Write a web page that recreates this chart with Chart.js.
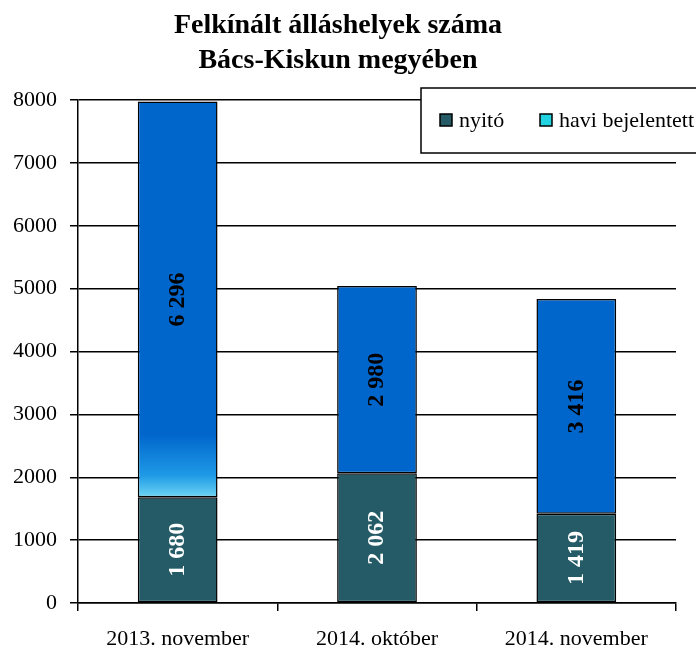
<!DOCTYPE html>
<html lang="hu">
<head>
    <meta charset="UTF-8">
    <title>Felkínált álláshelyek száma</title>
    <script src="https://cdn.jsdelivr.net/npm/chart.js"></script>
    <style>
        body { margin: 0; background: #ffffff; }
        .wrap { width: 696px; height: 651px; position: relative; }
    </style>
</head>
<body>
    <div class="wrap"><canvas id="chart"></canvas></div>
    <script>
        // data
        var categories = ['2013. november', '2014. október', '2014. november'];
        var nyito = [1680, 2062, 1419];
        var haviBejelentett = [6296, 2980, 3416];
        var yTicks = [0, 1000, 2000, 3000, 4000, 5000, 6000, 7000, 8000];

        var serif = '"Liberation Serif", "Times New Roman", serif';

        function fmt(v) {
            return String(v).replace(/\B(?=(\d{3})+(?!\d))/g, ' ');
        }

        // blue fill, first bar fades to light cyan at the bottom
        function haviFill(ctx) {
            var chart = ctx.chart;
            var y = chart.scales.y;
            if (ctx.dataIndex !== 0 || !chart.chartArea || !y) return '#0066cc';
            var base = y.getPixelForValue(nyito[0]);
            var top = y.getPixelForValue(nyito[0] + 1000);
            var g = chart.ctx.createLinearGradient(0, base, 0, top);
            g.addColorStop(0, '#6fd6f4');
            g.addColorStop(0.35, '#1f9ae6');
            g.addColorStop(1, '#0066cc');
            return g;
        }

        // value labels rotated inside the bars
        var barLabels = {
            id: 'barLabels',
            afterDatasetsDraw: function (chart) {
                var c = chart.ctx;
                chart.data.datasets.forEach(function (ds, i) {
                    var meta = chart.getDatasetMeta(i);
                    meta.data.forEach(function (bar, j) {
                        var mid = (bar.y + bar.base) / 2;
                        c.save();
                        c.translate(bar.x, mid);
                        c.rotate(-Math.PI / 2);
                        c.font = 'bold 24px ' + serif;
                        c.fillStyle = ds.labelColor;
                        c.textAlign = 'center';
                        c.textBaseline = 'middle';
                        c.fillText(fmt(ds.data[j]), 0, 0);
                        c.restore();
                    });
                });
            }
        };

        // boxed legend in the top right corner
        var boxLegend = {
            id: 'boxLegend',
            afterDraw: function (chart) {
                var c = chart.ctx;
                c.save();
                c.fillStyle = '#ffffff';
                c.fillRect(421, 88, 280, 65);
                c.strokeStyle = '#000000';
                c.lineWidth = 1.5;
                c.strokeRect(421, 88, 290, 65);
                c.font = '22px ' + serif;
                c.textBaseline = 'middle';
                var xs = [440, 540];
                chart.data.datasets.forEach(function (ds, i) {
                    c.fillStyle = ds.legendColor;
                    c.fillRect(xs[i], 114, 12, 12);
                    c.lineWidth = 1.5;
                    c.strokeRect(xs[i], 114, 12, 12);
                    c.fillStyle = '#000000';
                    c.textAlign = 'left';
                    c.fillText(ds.label, xs[i] + 19, 121);
                });
                c.restore();
            }
        };

        new Chart(document.getElementById('chart'), {
            type: 'bar',
            data: {
                labels: categories,
                datasets: [{
                    label: 'nyitó',
                    data: nyito,
                    backgroundColor: '#245b67',
                    legendColor: '#245b67',
                    labelColor: '#ffffff',
                    borderColor: '#000000',
                    borderWidth: 1.5,
                    borderSkipped: false
                }, {
                    label: 'havi bejelentett',
                    data: haviBejelentett,
                    backgroundColor: haviFill,
                    legendColor: '#22d3e2',
                    labelColor: '#000000',
                    borderColor: '#000000',
                    borderWidth: 1.5,
                    borderSkipped: false
                }]
            },
            options: {
                responsive: true,
                maintainAspectRatio: false,
                animation: false,
                layout: { padding: { left: 0, right: 20, top: 0, bottom: 0 } },
                datasets: { bar: { barPercentage: 0.4, categoryPercentage: 1 } },
                plugins: {
                    legend: { display: false },
                    tooltip: { enabled: false },
                    title: {
                        display: true,
                        text: ['Felkínált álláshelyek száma', 'Bács-Kiskun megyében'],
                        color: '#000000',
                        font: { family: serif, size: 28, weight: 'bold', lineHeight: 1.25 },
                        padding: { top: 8, bottom: 22 }
                    }
                },
                scales: {
                    x: {
                        stacked: true,
                        offset: true,
                        grid: {
                            offset: true,
                            drawOnChartArea: false,
                            drawTicks: true,
                            tickLength: 8,
                            color: '#000000',
                            lineWidth: 1.5
                        },
                        border: { color: '#000000', width: 1.5 },
                        ticks: {
                            color: '#000000',
                            font: { family: serif, size: 22 },
                            padding: 15,
                            maxRotation: 0
                        },
                        afterFit: function (s) { s.height = 48; }
                    },
                    y: {
                        stacked: true,
                        min: 0,
                        max: 8000,
                        afterBuildTicks: function (s) {
                            s.ticks = yTicks.map(function (v) { return { value: v }; });
                        },
                        grid: {
                            color: '#000000',
                            lineWidth: 1.5,
                            tickLength: 8
                        },
                        border: { color: '#000000', width: 1.5 },
                        ticks: {
                            color: '#000000',
                            font: { family: serif, size: 22 },
                            padding: 13,
                            callback: function (v) { return String(v); }
                        },
                        afterFit: function (s) { s.width = 78; }
                    }
                }
            },
            plugins: [barLabels, boxLegend]
        });
    </script>
</body>
</html>
